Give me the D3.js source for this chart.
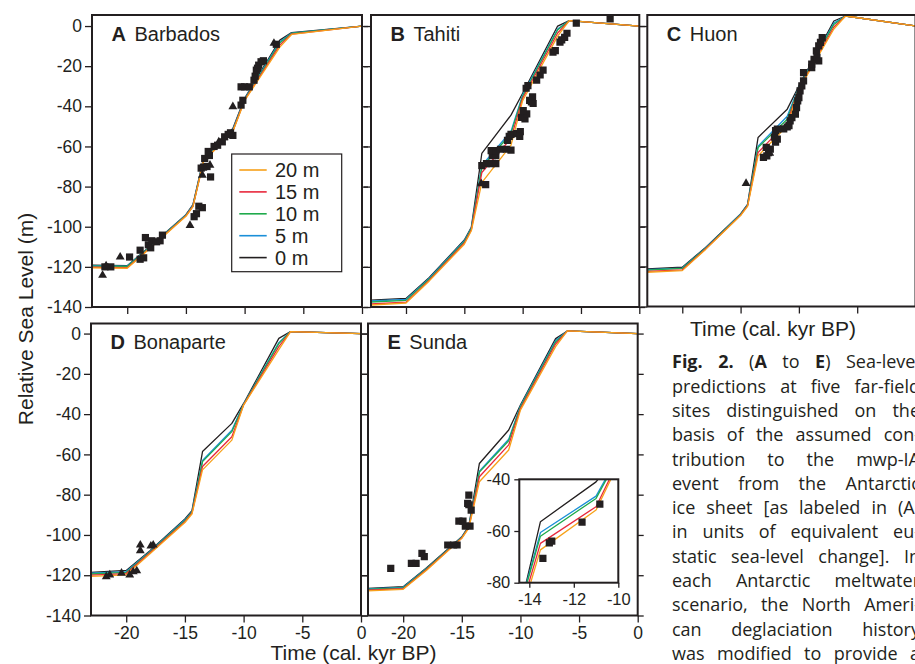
<!DOCTYPE html>
<html><head><meta charset="utf-8">
<script src="https://cdn.jsdelivr.net/npm/d3@7"></script>
<style>
body{margin:0;background:#fff;overflow:hidden}
svg{display:block}
</style>
</head><body>
<svg id="chart" width="915" height="664"></svg>
<script>
// ---------------- DATA ----------------
const times = [-23, -20, -18, -15, -14.4, -13.5, -11, -10, -7, -6, 0];
const scenarios = ["0 m", "5 m", "10 m", "15 m", "20 m"];

const barbados0  = [-119.2, -119.4, -109.5, -94.0, -89.0, -66.0, -51.0, -36.0, -7.0, -3.3, 0];
const barbados5  = [-119.4, -119.6, -109.7, -94.2, -89.3, -66.5, -51.5, -36.3, -7.8, -3.5, 0];
const barbados10 = [-119.6, -119.8, -109.9, -94.4, -89.6, -67.0, -52.0, -36.6, -8.5, -3.7, 0];
const barbados15 = [-120.2, -120.4, -110.2, -94.6, -89.8, -67.3, -52.3, -36.9, -9.5, -4.0, 0];
const barbados20 = [-120.5, -120.7, -110.5, -94.8, -90.0, -67.5, -52.5, -37.2, -10.5, -4.2, 0];

const tahiti0  = [-136.6, -135.7, -125.3, -106.6, -100.3, -63.5, -44.4, -33.5, 0.0, 2.7, 0];
const tahiti5  = [-137.0, -136.2, -125.7, -107.0, -100.7, -69.5, -52.5, -34.3, -1.5, 2.7, 0];
const tahiti10 = [-137.5, -136.7, -126.1, -107.5, -101.1, -70.5, -53.5, -35.0, -2.0, 2.7, 0];
const tahiti15 = [-138.5, -137.6, -126.6, -108.1, -101.6, -73.0, -56.0, -36.0, -3.5, 2.7, 0];
const tahiti20 = [-139.0, -138.0, -127.0, -108.7, -102.0, -78.0, -59.4, -37.2, -5.0, 2.7, 0];

const huon0  = [-121.2, -120.4, -110.5, -93.8, -89.0, -55.6, -41.5, -29.9, 2.5, 5.0, 0];
const huon5  = [-121.6, -120.8, -110.8, -94.0, -89.2, -60.0, -45.0, -30.3, 1.5, 5.0, 0];
const huon10 = [-121.8, -121.0, -111.0, -94.2, -89.4, -60.6, -46.5, -30.7, 0.8, 5.0, 0];
const huon15 = [-122.5, -121.7, -111.3, -94.4, -89.7, -63.1, -48.2, -31.2, -0.5, 5.0, 0];
const huon20 = [-122.9, -122.1, -111.5, -94.6, -90.0, -64.8, -49.8, -31.6, -1.5, 5.0, 0];

const bonaparte0  = [-118.6, -117.6, -108.0, -92.1, -88.0, -58.6, -44.6, -34.7, -2.4, 1.0, 0];
const bonaparte5  = [-119.0, -118.2, -108.3, -92.5, -88.4, -63.0, -48.0, -35.0, -4.5, 1.0, 0];
const bonaparte10 = [-119.4, -118.6, -108.6, -92.9, -88.8, -63.6, -48.7, -35.2, -5.0, 1.0, 0];
const bonaparte15 = [-120.0, -119.2, -109.0, -93.4, -89.2, -66.0, -51.2, -35.4, -6.5, 1.0, 0];
const bonaparte20 = [-120.6, -119.8, -109.5, -93.8, -89.6, -67.7, -52.9, -35.5, -8.0, 1.0, 0];

const sunda0  = [-126.5, -125.7, -116.3, -100.9, -95.5, -64.5, -47.9, -35.5, -2.5, 1.3, 0];
const sunda5  = [-126.8, -126.0, -116.6, -101.1, -95.8, -68.3, -52.5, -36.0, -3.5, 1.3, 0];
const sunda10 = [-127.0, -126.3, -116.8, -101.3, -96.0, -68.8, -53.2, -36.5, -4.2, 1.3, 0];
const sunda15 = [-127.4, -126.7, -117.2, -101.5, -96.3, -71.1, -55.3, -37.2, -5.2, 1.3, 0];
const sunda20 = [-127.8, -127.0, -117.5, -101.7, -96.6, -73.6, -57.8, -38.0, -6.5, 1.3, 0];

// Sunda inset (as drawn in the inset)
const insetTimes = [-14.6, -13.5, -11.0, -10.0];
const insetSunda0  = [-97, -56.4, -41.0, -30.0];
const insetSunda5  = [-95, -60.6, -46.5, -31.0];
const insetSunda10 = [-95, -62.0, -47.4, -31.5];
const insetSunda15 = [-97, -64.8, -50.6, -33.0];
const insetSunda20 = [-99, -67.3, -51.9, -34.0];

// observations [time, sea level]
const barbadosSquares = [[-21.9,-120],[-21.4,-120],[-19.8,-115.1],[-18.9,-116.2],[-18.6,-115.5],[-18.9,-111.7],[-18.45,-105.4],[-18.2,-109],[-18.0,-110.5],[-17.9,-107],[-17.5,-107.5],[-17.2,-107],[-17.0,-104.2],[-14.3,-95],[-14.1,-93.5],[-13.9,-89.8],[-13.6,-90.5],[-13.7,-70.8],[-13.5,-70.3],[-13.2,-70],[-12.9,-75.2],[-13.4,-66],[-13.0,-64.5],[-13.1,-62.5],[-12.6,-60],[-12.3,-59.4],[-11.9,-57.7],[-11.7,-55.2],[-11.4,-54],[-11.0,-54.5],[-11.2,-53.2],[-10.3,-39.4],[-10.15,-37],[-10.3,-30.3],[-10.0,-30.3],[-9.6,-30.3],[-9.2,-27],[-9.1,-25],[-9.0,-22],[-8.9,-21],[-8.8,-19.5],[-8.6,-17.8],[-8.4,-17.3],[-7.3,-9.1]];
const barbadosTriangles = [[-22.1,-124.2],[-21.8,-119.5],[-20.6,-115.1],[-14.65,-99.3],[-13.6,-74.3],[-12.95,-69.3],[-12.2,-57.7],[-11.0,-40.2],[-7.5,-8.6]];

const tahitiSquares = [[-13.17,-79],[-13.5,-69.6],[-13.1,-68.6],[-12.7,-68.6],[-12.3,-68.6],[-12.6,-64.6],[-12.3,-64.6],[-12.7,-62.1],[-12.3,-62.1],[-11.9,-61.4],[-11.4,-61.4],[-11.0,-61.8],[-11.3,-57],[-11.15,-55],[-11.0,-54],[-10.5,-53.6],[-10.2,-52.6],[-10.25,-55],[-10.1,-45.5],[-9.8,-46.3],[-9.65,-43.8],[-9.95,-42.1],[-9.4,-37],[-9.25,-37.8],[-9.1,-38.6],[-9.15,-35.3],[-9.7,-31],[-9.55,-29.7],[-8.8,-27],[-8.5,-24.4],[-8.25,-22],[-7.4,-13],[-7.2,-12.2],[-6.8,-8],[-6.65,-6.9],[-6.4,-5.6],[-6.2,-3.6],[-5.4,1.4],[-2.5,3.6]];
const tahitiTriangles = [[-13.55,-78.5]];

const huonSquares = [[-13.04,-65.6],[-12.75,-64.8],[-12.6,-63.2],[-12.45,-61.5],[-12.8,-60.6],[-12.0,-58],[-11.85,-56.5],[-12.1,-55.5],[-12.0,-52.2],[-11.85,-51.5],[-11.3,-51.3],[-11.0,-50.4],[-10.85,-49.7],[-10.75,-47.3],[-10.6,-45.7],[-10.3,-44],[-10.2,-40.7],[-10.1,-37.4],[-10.0,-35.7],[-9.9,-32.4],[-9.75,-29.9],[-9.6,-27.4],[-9.6,-23.3],[-8.9,-20.8],[-8.9,-19],[-8.7,-16.6],[-8.45,-15.7],[-8.5,-12.4],[-8.3,-9.9],[-8.15,-8.2],[-8.0,-5.8],[-8.3,-17.4]];
const huonTriangles = [[-14.53,-78.6],[-12.5,-63.5]];

const bonaparteSquares = [];
const bonaparteTriangles = [[-21.7,-120.7],[-21.4,-119.8],[-20.4,-119],[-19.7,-119.8],[-19.4,-118.3],[-19.1,-117.8],[-18.8,-105],[-18.8,-107.8],[-17.9,-105.5],[-17.7,-105]];

const sundaSquares = [[-21.06,-116.6],[-19.3,-114.1],[-18.9,-114.1],[-18.4,-109.1],[-18.2,-110.8],[-16.2,-105],[-15.4,-105],[-15.7,-105],[-15.25,-93.1],[-14.9,-93.1],[-14.7,-95.6],[-14.3,-95.6],[-14.5,-84.3],[-14.4,-80.2],[-14.2,-87.7],[-14.4,-85]];
const sundaTriangles = [];
const insetSundaSquares = [[-13.39,-70.6],[-12.99,-63.9],[-13.1,-64.6],[-11.63,-56.6],[-10.83,-49.6]];

const yTicks = [0, -20, -40, -60, -80, -100, -120, -140];
const yTickLabels = ["0", "-20", "-40", "-60", "-80", "-100", "-120", "-140"];
const xTicks = [-20, -15, -10, -5, 0];
const xTickLabels = ["-20", "-15", "-10", "-5", "0"];
const insetXTicks = [-14, -12, -10];
const insetXTickLabels = ["-14", "-12", "-10"];
const insetYTicks = [-40, -60, -80];
const insetYTickLabels = ["-40", "-60", "-80"];

const captionLines = [
  "**Fig.** **2.** (**A** to **E**) Sea-level",
  "predictions at five far-field",
  "sites distinguished on the",
  "basis of the assumed con-",
  "tribution to the mwp-IA",
  "event from the Antarctic",
  "ice sheet [as labeled in (A)",
  "in units of equivalent eu-",
  "static sea-level change]. In",
  "each Antarctic meltwater",
  "scenario, the North Ameri-",
  "can deglaciation history",
  "was modified to provide a"
];

// ---------------- STYLE / LAYOUT ----------------
const colors = ["#231f20", "#1b8fd8", "#1faa4c", "#e8283c", "#f7a11a"];
const ink = "#231f20";
const sans = "'Liberation Sans', Arial, Helvetica, sans-serif";

const svg = d3.select("#chart");
const defs = svg.append("defs");

const panels = [
  {key:"A", name:"Barbados", L:92, R:362, T:15, B:307, yTop:5.5, yLab:true, xLab:false,
   curves:[barbados0,barbados5,barbados10,barbados15,barbados20], sq:barbadosSquares, tri:barbadosTriangles},
  {key:"B", name:"Tahiti", L:371, R:639.3, T:15, B:307, yTop:5.5, yLab:false, xLab:false,
   curves:[tahiti0,tahiti5,tahiti10,tahiti15,tahiti20], sq:tahitiSquares, tri:tahitiTriangles},
  {key:"C", name:"Huon", L:647.3, R:915.5, T:15, B:306.5, yTop:5.5, yLab:false, xLab:false,
   curves:[huon0,huon5,huon10,huon15,huon20], sq:huonSquares, tri:huonTriangles},
  {key:"D", name:"Bonaparte", L:91, R:361, T:323.5, B:615.5, yTop:5, yLab:true, xLab:true,
   curves:[bonaparte0,bonaparte5,bonaparte10,bonaparte15,bonaparte20], sq:bonaparteSquares, tri:bonaparteTriangles},
  {key:"E", name:"Sunda", L:368, R:637.7, T:323.5, B:615.5, yTop:5, yLab:false, xLab:true,
   curves:[sunda0,sunda5,sunda10,sunda15,sunda20], sq:sundaSquares, tri:sundaTriangles}
];

function styleAxis(g, fontSize) {
  g.select(".domain").remove();
  g.selectAll(".tick line").attr("stroke", ink).attr("stroke-width", 1.3);
  g.selectAll(".tick text").attr("fill", ink).style("font-family", sans).style("font-size", fontSize + "px");
}

const sqSym = d3.symbol().type(d3.symbolSquare).size(52);
const triSym = d3.symbol().type(d3.symbolTriangle).size(34);

function drawMarks(g, x, y, sq, tri, clipId) {
  const m = g.append("g").attr("clip-path", `url(#${clipId})`);
  m.selectAll("path.sq").data(sq).enter().append("path").attr("class","sq")
    .attr("d", sqSym).attr("transform", d => `translate(${x(d[0])},${y(d[1])})`).attr("fill", ink);
  m.selectAll("path.tri").data(tri).enter().append("path").attr("class","tri")
    .attr("d", triSym).attr("transform", d => `translate(${x(d[0])},${y(d[1])})`).attr("fill", ink);
}

panels.forEach(p => {
  const x = d3.scaleLinear().domain([-23, 0]).range([p.L, p.R]);
  const y = d3.scaleLinear().domain([-140, p.yTop]).range([p.B, p.T]);
  const g = svg.append("g");
  const clipId = "clip" + p.key;
  defs.append("clipPath").attr("id", clipId).append("rect")
    .attr("x", p.L).attr("y", p.T).attr("width", p.R - p.L).attr("height", p.B - p.T);

  // axes
  const ay = g.append("g").attr("transform", `translate(${p.L},0)`)
    .call(d3.axisLeft(y).tickValues(yTicks).tickSize(7).tickPadding(3)
      .tickFormat((d, i) => p.yLab ? yTickLabels[i] : ""));
  styleAxis(ay, 17.5);
  const ar = g.append("g").attr("transform", `translate(${p.R},0)`)
    .call(d3.axisRight(y).tickValues(yTicks).tickSize(6).tickFormat(""));
  styleAxis(ar, 17.5);
  const ax = g.append("g").attr("transform", `translate(0,${p.B})`)
    .call(d3.axisBottom(x).tickValues(xTicks).tickSize(7).tickPadding(4)
      .tickFormat((d, i) => p.xLab ? xTickLabels[i] : ""));
  styleAxis(ax, 17.5);

  // model curves
  const line = d3.line().x((d, i) => x(times[i])).y(d => y(d));
  const cg = g.append("g").attr("clip-path", `url(#${clipId})`);
  p.curves.forEach((c, i) => {
    cg.append("path").attr("d", line(c)).attr("fill", "none")
      .attr("stroke", colors[i]).attr("stroke-width", 1.3).attr("stroke-linejoin", "round");
  });

  drawMarks(g, x, y, p.sq, p.tri, clipId);

  // frame
  g.append("rect").attr("x", p.L).attr("y", p.T).attr("width", p.R - p.L).attr("height", p.B - p.T)
    .attr("fill", "none").attr("stroke", ink).attr("stroke-width", 2);

  // panel label
  const lab = g.append("text").attr("x", p.L + 19.5).attr("y", p.T + 25.5)
    .attr("fill", ink).style("font-family", sans).style("font-size", "20px").style("font-weight", "bold")
    .text(p.key);
  const w = lab.node().getComputedTextLength();
  g.append("text").attr("x", p.L + 19.5 + w + 8.5).attr("y", p.T + 25.5)
    .attr("fill", ink).style("font-family", sans).style("font-size", "20px").text(p.name);
});

// ---------------- LEGEND (panel A) ----------------
{
  const lg = svg.append("g");
  lg.append("rect").attr("x", 231.7).attr("y", 154).attr("width", 110).attr("height", 117.7)
    .attr("fill", "#fff").attr("stroke", ink).attr("stroke-width", 1.2);
  const order = [4, 3, 2, 1, 0];
  order.forEach((si, r) => {
    const cy = 170 + r * 21.9;
    lg.append("line").attr("x1", 239.3).attr("x2", 266.7).attr("y1", cy).attr("y2", cy)
      .attr("stroke", colors[si]).attr("stroke-width", 1.6);
    lg.append("text").attr("x", 275).attr("y", cy).attr("dy", "0.36em")
      .attr("fill", ink).style("font-family", sans).style("font-size", "20px").text(scenarios[si]);
  });
}

// ---------------- INSET (panel E) ----------------
{
  const L = 519.3, R = 618.3, T = 479.3, B = 582.7;
  const x = d3.scaleLinear().domain([-14.45, -10]).range([L, R]);
  const y = d3.scaleLinear().domain([-80, -40]).range([B, T]);
  const g = svg.append("g");
  g.append("rect").attr("x", L).attr("y", T).attr("width", R - L).attr("height", B - T).attr("fill", "#fff");
  defs.append("clipPath").attr("id", "clipInset").append("rect")
    .attr("x", L).attr("y", T).attr("width", R - L).attr("height", B - T);
  const line = d3.line().x((d, i) => x(insetTimes[i])).y(d => y(d));
  const cg = g.append("g").attr("clip-path", "url(#clipInset)");
  [insetSunda0, insetSunda5, insetSunda10, insetSunda15, insetSunda20].forEach((c, i) => {
    cg.append("path").attr("d", line(c)).attr("fill", "none")
      .attr("stroke", colors[i]).attr("stroke-width", 1.3).attr("stroke-linejoin", "round");
  });
  drawMarks(g, x, y, insetSundaSquares, [], "clipInset");
  const ay = g.append("g").attr("transform", `translate(${L},0)`)
    .call(d3.axisLeft(y).tickValues(insetYTicks).tickSize(5).tickPadding(4)
      .tickFormat((d, i) => insetYTickLabels[i]));
  styleAxis(ay, 16.5);
  const ax = g.append("g").attr("transform", `translate(0,${B})`)
    .call(d3.axisBottom(x).tickValues(insetXTicks).tickSize(5).tickPadding(6)
      .tickFormat((d, i) => insetXTickLabels[i]));
  styleAxis(ax, 16.5);
  g.append("rect").attr("x", L).attr("y", T).attr("width", R - L).attr("height", B - T)
    .attr("fill", "none").attr("stroke", ink).attr("stroke-width", 2);
}

// ---------------- AXIS TITLES ----------------
svg.append("text").attr("transform", "translate(33,319) rotate(-90)").attr("text-anchor", "middle")
  .attr("fill", ink).style("font-family", sans).style("font-size", "21px").text("Relative Sea Level (m)");
svg.append("text").attr("x", 353.5).attr("y", 659.5).attr("text-anchor", "middle")
  .attr("fill", ink).style("font-family", sans).style("font-size", "21px").text("Time (cal. kyr BP)");
svg.append("text").attr("x", 773).attr("y", 335.5).attr("text-anchor", "middle")
  .attr("fill", ink).style("font-family", sans).style("font-size", "21px").text("Time (cal. kyr BP)");

// ---------------- CAPTION (justified) ----------------
{
  const cx0 = 672, cw = 248, base0 = 368.3, lh = 24.3;
  const cfont = "'Open Sans', 'Noto Sans', sans-serif";
  const cg = svg.append("g").style("font-family", cfont).style("font-size", "18px").attr("fill", ink);
  captionLines.forEach((ln, li) => {
    const words = ln.split(" ");
    const nodes = words.map(wd => {
      const t = cg.append("text").attr("y", base0 + li * lh);
      wd.split("**").forEach((seg, k) => {
        if (seg.length) t.append("tspan").style("font-weight", k % 2 ? "bold" : "normal").text(seg);
      });
      return t;
    });
    const widths = nodes.map(n => n.node().getComputedTextLength());
    const total = d3.sum(widths);
    const gap = words.length > 1 ? Math.max(3, (cw - total) / (words.length - 1)) : 0;
    let xx = cx0;
    nodes.forEach((n, i) => { n.attr("x", xx); xx += widths[i] + gap; });
  });
}
</script>
</body></html>
